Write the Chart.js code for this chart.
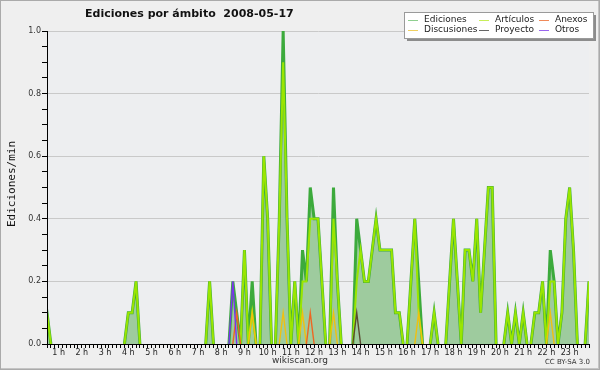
<!DOCTYPE html>
<html><head><meta charset="utf-8">
<script src="https://cdn.jsdelivr.net/npm/chart.js@4/dist/chart.umd.min.js"></script>
<style>html,body{margin:0;padding:0;background:#efefef;}canvas{display:block;}</style>
</head><body>
<canvas id="c" width="600" height="370"></canvas>
<script>
// 10-minute slots, 6 per hour, hour 0 .. hour 23
const slotsPerHour = 6;
const chartTitle = 'Ediciones por ámbito  2008-05-17';
const yTitle = 'Ediciones/min';
const seriesNames = ['Ediciones','Artículos','Anexos','Discusiones','Proyecto','Otros'];

const ediciones = [
 0,0,0,0.1,0,0,  0,0,0,0,0,0,  0,0,0,0,0,0,  0,0,0,0,0,0,
 0.1,0.1,0.2,0,0,0,  0,0,0,0,0,0,  0,0,0,0,0,0,  0,0,0,0.2,0,0,
 0,0,0,0.2,0.1,0,  0.3,0,0.2,0,0,0.6,  0.4,0,0,0.4,1.0,0.4,  0,0.2,0,0.3,0.2,0.5,
 0.4,0.4,0.2,0,0,0.5,  0.2,0,0,0,0,0.4,  0.3,0.2,0.2,0.3,0.4,0.3,  0.3,0.3,0.3,0.1,0.1,0,
 0,0.2,0.4,0.2,0,0,  0,0.1,0,0,0,0.2,  0.4,0.2,0,0.3,0.3,0.2,  0.4,0.1,0.3,0.5,0.5,0,
 0,0,0.1,0,0.1,0,  0.1,0,0,0.1,0.1,0.2,  0,0.3,0.2,0,0.1,0.4,  0.5,0.3,0,0,0,0.2
];
const articulos = [
 0,0,0,0.1,0,0,  0,0,0,0,0,0,  0,0,0,0,0,0,  0,0,0,0,0,0,
 0.1,0.1,0.2,0,0,0,  0,0,0,0,0,0,  0,0,0,0,0,0,  0,0,0,0.2,0,0,
 0,0,0,0,0,0,  0.3,0,0.1,0,0,0.6,  0.4,0,0,0.4,0.9,0.4,  0,0.2,0,0.2,0.2,0.4,
 0.4,0.4,0.2,0,0,0.4,  0.2,0,0,0,0,0.2,  0.3,0.2,0.2,0.3,0.4,0.3,  0.3,0.3,0.3,0.1,0.1,0,
 0,0.2,0.4,0.1,0,0,  0,0.1,0,0,0,0.2,  0.4,0.2,0,0.3,0.3,0.2,  0.4,0.1,0.3,0.5,0.5,0,
 0,0,0.1,0,0.1,0,  0.1,0,0,0.1,0.1,0.2,  0,0.2,0.2,0,0.1,0.4,  0.5,0.3,0,0,0,0.2
];
const anexos = [
 0,0,0,0,0,0,  0,0,0,0,0,0,  0,0,0,0,0,0,  0,0,0,0,0,0,
 0,0,0,0,0,0,  0,0,0,0,0,0,  0,0,0,0,0,0,  0,0,0,0,0,0,
 0,0,0,0,0.1,0,  0,0,0,0,0,0,  0,0,0,0,0,0,  0,0,0,0,0,0.1,
 0,0,0,0,0,0,  0,0,0,0,0,0,  0,0,0,0,0,0,  0,0,0,0,0,0,
 0,0,0,0,0,0,  0,0,0,0,0,0,  0,0,0,0,0,0,  0,0,0,0,0,0,
 0,0,0,0,0,0,  0,0,0,0,0,0,  0,0,0,0,0,0,  0,0,0,0,0,0
];
const discusiones = [
 0,0,0,0,0,0,  0,0,0,0,0,0,  0,0,0,0,0,0,  0,0,0,0,0,0,
 0,0,0,0,0,0,  0,0,0,0,0,0,  0,0,0,0,0,0,  0,0,0,0,0,0,
 0,0,0,0,0,0,  0,0,0.1,0,0,0,  0,0,0,0,0.1,0,  0,0,0,0.1,0,0,
 0,0,0,0,0,0.1,  0,0,0,0,0,0,  0,0,0,0,0,0,  0,0,0,0,0,0,
 0,0,0,0.1,0,0,  0,0,0,0,0,0,  0,0,0,0,0,0,  0,0,0,0,0,0,
 0,0,0,0,0,0,  0,0,0,0,0,0,  0,0.1,0,0,0,0,  0,0,0,0,0,0
];
const proyecto = [
 0,0,0,0,0,0,  0,0,0,0,0,0,  0,0,0,0,0,0,  0,0,0,0,0,0,
 0,0,0,0,0,0,  0,0,0,0,0,0,  0,0,0,0,0,0,  0,0,0,0,0,0,
 0,0,0,0,0,0,  0,0,0,0,0,0,  0,0,0,0,0,0,  0,0,0,0,0,0,
 0,0,0,0,0,0,  0,0,0,0,0,0.1,  0,0,0,0,0,0,  0,0,0,0,0,0,
 0,0,0,0,0,0,  0,0,0,0,0,0,  0,0,0,0,0,0,  0,0,0,0,0,0,
 0,0,0,0,0,0,  0,0,0,0,0,0,  0,0,0,0,0,0,  0,0,0,0,0,0
];
const otros = [
 0,0,0,0,0,0,  0,0,0,0,0,0,  0,0,0,0,0,0,  0,0,0,0,0,0,
 0,0,0,0,0,0,  0,0,0,0,0,0,  0,0,0,0,0,0,  0,0,0,0,0,0,
 0,0,0,0.2,0,0,  0,0,0,0,0,0,  0,0,0,0,0,0,  0,0,0,0,0,0,
 0,0,0,0,0,0,  0,0,0,0,0,0,  0,0,0,0,0,0,  0,0,0,0,0,0,
 0,0,0,0,0,0,  0,0,0,0,0,0,  0,0,0,0,0,0,  0,0,0,0,0,0,
 0,0,0,0,0,0,  0,0,0,0,0,0,  0,0,0,0,0,0,  0,0,0,0,0,0
];
const firstSlot = 3, lastSlot = 143;
const yTickStep = 0.05, yLabelEvery = 4;

const lineColors = ['#3caa3c','#9ae600','#ee6622','#f0c010','#5a4a30','#7a33ee'];
const legendColors = ['#8fcf8f','#c8ee5a','#f08a5a','#f0d060','#666666','#9a66ee'];

function toXY(arr){ return arr.map((v,k)=>({x:k/slotsPerHour, y:v})); }
function zeroSeg(ctx){ return ctx.p0.parsed.y===0 && ctx.p1.parsed.y===0; }

const allSeries = [ediciones, articulos, anexos, discusiones, proyecto, otros];
const orders = [10, 9, 5, 6, 4, 3];
const widths = [3, 2, 1.4, 1.4, 1.4, 1.4];
const datasets = allSeries.map((arr,i)=>({
  label: seriesNames[i],
  data: toXY(arr),
  borderColor: lineColors[i],
  backgroundColor: i===0 ? '#9ecb9e' : lineColors[i],
  fill: i===0 ? 'origin' : false,
  borderWidth: widths[i],
  pointRadius: 0,
  tension: 0,
  order: orders[i],
  segment: { borderColor: ctx => zeroSeg(ctx) ? 'rgba(0,0,0,0)' : undefined }
}));

const decor = {
  id: 'decor',
  beforeDraw(chart){
    const c = chart.ctx, a = chart.chartArea;
    c.save();
    c.fillStyle = '#efefef'; c.fillRect(0,0,600,370);
    c.fillStyle = '#edeef0'; c.fillRect(a.left, a.top, a.right-a.left, a.bottom-a.top);
    c.restore();
  },
  afterDraw(chart){
    const c = chart.ctx;
    c.save();
    // border
    c.strokeStyle = '#aaaaaa'; c.lineWidth = 1;
    c.strokeRect(0.5,0.5,599,369);
    c.strokeStyle = '#c4c4c4';
    c.beginPath(); c.moveTo(598.5,1); c.lineTo(598.5,369); c.moveTo(1,368.5); c.lineTo(599,368.5); c.stroke();
    // title
    c.fillStyle = '#111';
    c.font = 'bold 11px "DejaVu Sans"';
    c.textAlign = 'left'; c.textBaseline = 'middle';
    c.fillText(chartTitle, 85, 14);
    // y title
    c.save();
    c.translate(12, 184); c.rotate(-Math.PI/2);
    c.font = '11px "DejaVu Sans Mono"'; c.textAlign = 'center'; c.fillStyle = '#111';
    c.fillText(yTitle, 0, 0);
    c.restore();
    // footer
    c.font = '9px "DejaVu Sans"'; c.fillStyle = '#333'; c.textAlign = 'center';
    c.fillText('wikiscan.org', 300, 361);
    c.font = '7px "DejaVu Sans"'; c.textAlign = 'right';
    c.fillText('CC BY-SA 3.0', 590, 362);
    // legend
    const bx = 404, by = 12, bw = 189, bh = 26;
    c.fillStyle = '#8c8c8c'; c.fillRect(bx+3, by+3, bw, bh);
    c.fillStyle = '#ffffff'; c.fillRect(bx, by, bw, bh);
    c.strokeStyle = '#9a9a9a'; c.strokeRect(bx+0.5, by+0.5, bw, bh);
    const cols = [408, 479, 539], rows = [19.5, 29.5];
    const order = [[0,0],[1,0],[2,0],[0,1],[1,1],[2,1]];
    c.font = '9px "DejaVu Sans"'; c.textAlign = 'left'; c.textBaseline = 'middle';
    seriesNames.forEach((name,j)=>{
      const [ci, ri] = order[j];
      const x = cols[ci], y = rows[ri];
      c.strokeStyle = legendColors[j]; c.lineWidth = 1;
      c.beginPath(); c.moveTo(x, Math.round(y)+0.5); c.lineTo(x+10, Math.round(y)+0.5); c.stroke();
      c.fillStyle = '#222';
      c.fillText(name, x+16, y);
    });
    c.restore();
  }
};

new Chart(document.getElementById('c'), {
  type: 'line',
  data: { datasets },
  options: {
    responsive: false,
    animation: false,
    events: [],
    layout: { padding: { left: 0, right: 11, top: 31, bottom: 0 } },
    plugins: { legend: { display: false }, title: { display: false }, tooltip: { enabled: false } },
    scales: {
      x: {
        type: 'linear',
        min: firstSlot/slotsPerHour, max: lastSlot/slotsPerHour,
        afterBuildTicks: s => { const t = []; for (let k=firstSlot;k<=lastSlot;k++) t.push({value:k/slotsPerHour}); s.ticks = t; },
        afterFit: s => { s.height = 26; },
        ticks: {
          autoSkip: false, maxRotation: 0, minRotation: 0, padding: 0,
          font: { size: 8, family: '"DejaVu Sans"' }, color: '#222',
          callback: v => { const k = Math.round(v*slotsPerHour); return k % slotsPerHour === 0 ? (k/slotsPerHour)+' h' : ''; }
        },
        grid: { drawOnChartArea: false, tickLength: 4, tickColor: '#000', color: '#000' },
        border: { color: '#000', width: 1, z: 2 }
      },
      y: {
        min: 0, max: 1,
        afterBuildTicks: s => { const t = []; for (let i=0;i<=20;i++) t.push({value:i*yTickStep}); s.ticks = t; },
        afterFit: s => { s.width = 47; },
        ticks: {
          autoSkip: false, padding: 1,
          font: { size: 8, family: '"DejaVu Sans"' }, color: '#333',
          callback: v => { const i = Math.round(v/yTickStep); return i % yLabelEvery === 0 ? (i*yTickStep).toFixed(1) : ''; }
        },
        grid: {
          color: ctx => { if (!ctx.tick) return 'rgba(0,0,0,0)'; const i = Math.round(ctx.tick.value/yTickStep); return (i % yLabelEvery === 0 && i > 0) ? '#c9c9c9' : 'rgba(0,0,0,0)'; },
          tickColor: '#000', tickLength: 5, lineWidth: 1
        },
        border: { color: '#000', width: 1, z: 2 }
      }
    }
  },
  plugins: [decor]
});
</script>
</body></html>
